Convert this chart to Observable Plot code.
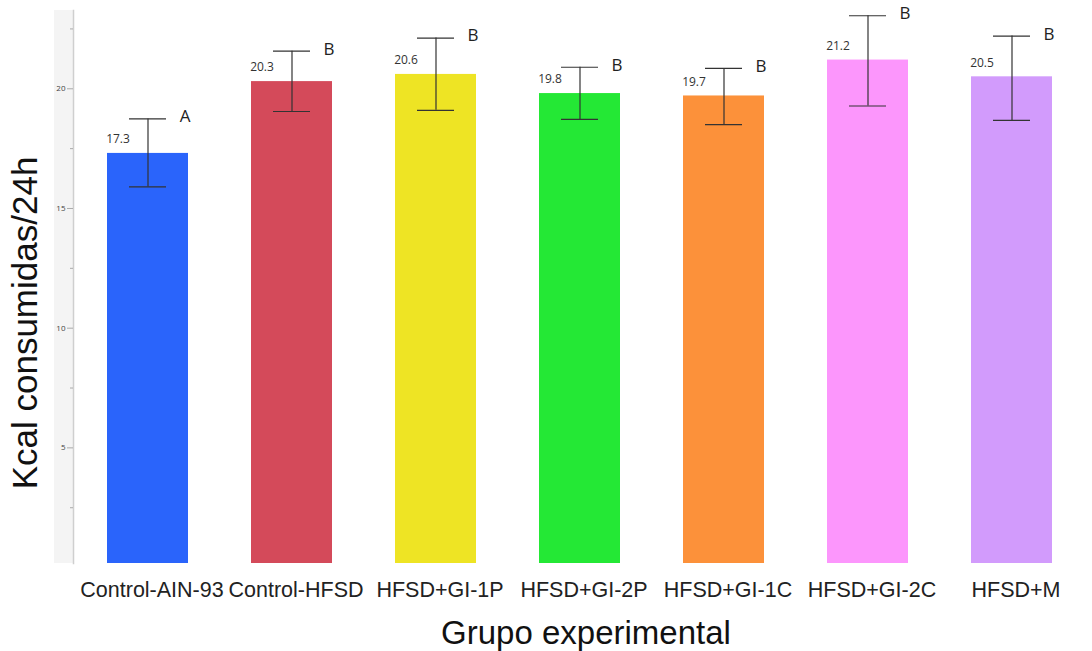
<!DOCTYPE html>
<html>
<head>
<meta charset="utf-8">
<script src="https://cdn.jsdelivr.net/npm/d3@7"></script>
<script src="https://cdn.jsdelivr.net/npm/@observablehq/plot@0.6"></script>
<style>
  html, body { margin: 0; padding: 0; background: #fff; }
  #chart { width: 1092px; height: 651px; }
</style>
</head>
<body>
<div id="chart"></div>
<script>
const groups = ["Control-AIN-93", "Control-HFSD", "HFSD+GI-1P", "HFSD+GI-2P", "HFSD+GI-1C", "HFSD+GI-2C", "HFSD+M"];
const means = [17.3, 20.3, 20.6, 19.8, 19.7, 21.2, 20.5];
const errLow = [15.9, 19.05, 19.1, 18.72, 18.5, 19.28, 18.68];
const errHigh = [18.74, 21.57, 22.12, 20.9, 20.85, 23.05, 22.2];
const letters = ["A", "B", "B", "B", "B", "B", "B"];
const colors = ["#2a64fb", "#d44a5a", "#eee424", "#24e835", "#fc913a", "#fc96fc", "#d29bfc"];
const majorTicks = [5, 10, 15, 20];
const minorTicks = [2.5, 7.5, 12.5, 17.5, 22.5];
const xTitle = "Grupo experimental";
const yTitle = "Kcal consumidas/24h";

const data = groups.map((g, i) => ({
  group: g, mean: means[i], lo: errLow[i], hi: errHigh[i], letter: letters[i], color: colors[i]
}));

const chart = Plot.plot({
  width: 1092,
  height: 651,
  marginLeft: 73,
  marginRight: 6,
  marginTop: 10,
  marginBottom: 88,
  style: { background: "#fff", fontFamily: "'Open Sans', sans-serif" },
  x: { domain: groups, paddingInner: 0.44, paddingOuter: 0.22, label: null },
  y: { domain: [0.17, 23.27], label: null },
  marks: [
    Plot.frame({ anchor: "left", stroke: "#cfcfcf", strokeWidth: 1.5 }),
    Plot.axisY({ ticks: minorTicks, tickSize: 3, tickFormat: () => "", stroke: "#aaa" }),
    Plot.axisY({ ticks: majorTicks, tickSize: 6, tickPadding: 2, fontSize: 8, fill: "#444", stroke: "#aaa", label: null }),
    Plot.axisX({ tickSize: 0, tickPadding: 18, fontSize: 21.5, dx: 4, fill: "#222",
      fontFamily: "'Liberation Sans', Arial, sans-serif", label: null }),
    Plot.barY(data, { x: "group", y: "mean", fill: "color", clip: true }),
    Plot.ruleX(data, { x: "group", y1: "lo", y2: "hi", stroke: "#333", strokeWidth: 1.2 }),
    Plot.tickY(data, { x: "group", y: "lo", stroke: "#333", strokeWidth: 1.2, insetLeft: 22, insetRight: 22 }),
    Plot.tickY(data, { x: "group", y: "hi", stroke: "#333", strokeWidth: 1.2, insetLeft: 22, insetRight: 22 }),
    Plot.text(data, { x: "group", y: "mean", text: d => d.mean.toFixed(1), dx: -30, dy: -14, fontSize: 12, fill: "#333" }),
    Plot.text(data, { x: "group", y: "hi", text: "letter", dx: 37, dy: -2, fontSize: 17, fill: "#222" }),
    Plot.text([xTitle], { frameAnchor: "bottom", text: d => d, dy: 80, dx: 6, fontSize: 33, fill: "#111",
      fontFamily: "'Liberation Sans', Arial, sans-serif" })
  ]
});

const svg = d3.select(chart);
// light grey band behind the y axis
svg.insert("rect", ":first-child")
  .attr("x", 54).attr("y", 10).attr("width", 19).attr("height", 553)
  .attr("fill", "#f4f4f4");

// y-axis title
svg.append("text")
  .attr("transform", "translate(37,323) rotate(-90)")
  .attr("text-anchor", "middle")
  .attr("font-family", "'Liberation Sans', Arial, sans-serif")
  .attr("font-size", 35)
  .attr("fill", "#111")
  .text(yTitle);

document.getElementById("chart").appendChild(chart);
</script>
</body>
</html>
